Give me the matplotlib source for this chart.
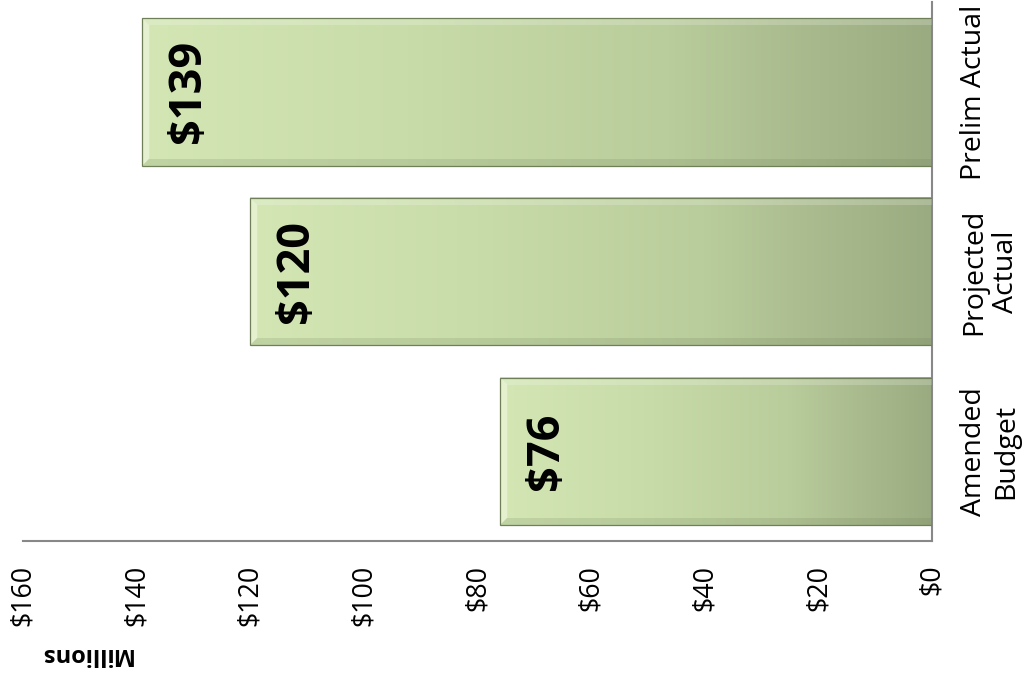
import numpy as np
import matplotlib
matplotlib.use("Agg")
import matplotlib.pyplot as plt
from matplotlib.patches import Rectangle, Polygon
from matplotlib.colors import LinearSegmentedColormap

plt.rcParams['font.family'] = ['Open Sans', 'DejaVu Sans']

categories = ["Amended\nBudget", "Projected\nActual", "Prelim Actual"]
values = [76, 120, 139]
ticks = [0, 20, 40, 60, 80, 100, 120, 140, 160]
tick_labels = ["$0", "$20", "$40", "$60", "$80", "$100", "$120", "$140", "$160"]

fig = plt.figure(figsize=(10.30, 6.73), dpi=100)
ax = fig.add_axes([0.0223, 0.196, 0.8826, 0.801])

grad = LinearSegmentedColormap.from_list("bar", ["#d3e6b4", "#c8dca9", "#b9cc9b", "#9aab81"])
ramp = np.linspace(0, 1, 256).reshape(1, -1)
h = 0.82
px_x = 160 / 909.0   # data units per pixel along value axis
px_y = 3 / 539.0     # data units per pixel along category axis

for i, v in enumerate(values):
    y0, y1 = i - h / 2, i + h / 2
    ax.imshow(ramp, cmap=grad, aspect="auto", extent=(v, 0, y0, y1),
              zorder=2, interpolation="bilinear")
    # bevel along the outer end and the long edges
    bx, by = 7 * px_x, 7 * px_y
    ax.add_patch(Polygon([(v, y0), (v, y1), (v - bx, y1 - by), (v - bx, y0 + by)],
                         closed=True, facecolor="#eef5dc", alpha=0.7, lw=0, zorder=3))
    ax.add_patch(Polygon([(v, y1), (0, y1), (0, y1 - by), (v - bx, y1 - by)],
                         closed=True, facecolor="#ffffff", alpha=0.2, lw=0, zorder=3))
    ax.add_patch(Polygon([(v, y0), (0, y0), (0, y0 + by), (v - bx, y0 + by)],
                         closed=True, facecolor="#6d7d55", alpha=0.18, lw=0, zorder=3))
    ax.add_patch(Rectangle((0, y0), v, h, facecolor="none", edgecolor="#6f7f58",
                           lw=0.9, zorder=4))
    ax.annotate(f"${v}", (v, i), xytext=(33, 0), textcoords="offset points",
                rotation=90, ha="center", va="center", fontsize=32.5,
                fontweight="bold", color="black", zorder=5)

ax.set_xlim(160, 0)
ax.set_ylim(-0.5, 2.5)

ax.set_xticks(ticks)
ax.set_xticklabels(tick_labels, rotation=90, fontsize=19.3, va="top")
ax.set_yticks(range(len(categories)))
ax.set_yticklabels(categories, rotation=90, fontsize=20.5, va="center",
                   ha="left", multialignment="center")
ax.yaxis.tick_right()
ax.tick_params(axis="x", length=0, pad=17)
ax.tick_params(axis="y", length=0, pad=20)

for side in ["left", "top"]:
    ax.spines[side].set_visible(False)
for side in ["bottom", "right"]:
    ax.spines[side].set_color("#888888")
    ax.spines[side].set_linewidth(1.5)

fig.text(85 / 1030, 1 - 654 / 673, "Millions", rotation=180, ha="center",
         va="center", fontsize=17, fontweight="bold")

fig.savefig("out.png", dpi=100)
